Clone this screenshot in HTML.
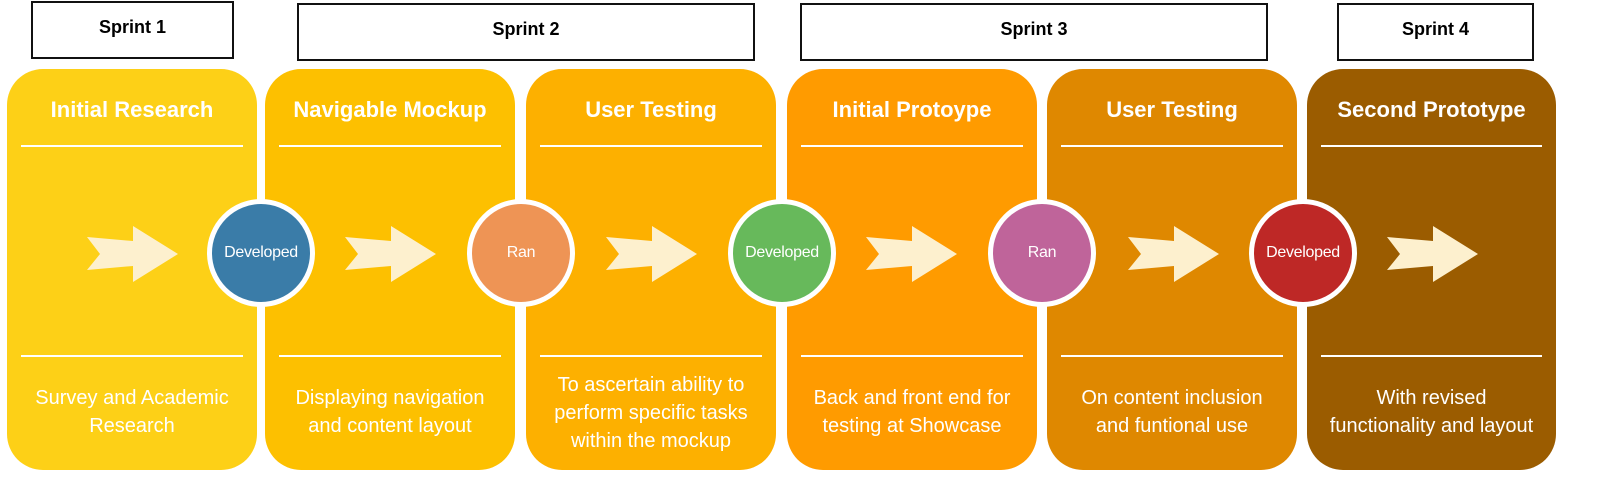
<!DOCTYPE html>
<html><head><style>
body{margin:0;width:1600px;height:478px;background:#fff;overflow:hidden;position:relative;font-family:"Liberation Sans",Arial,sans-serif}
.s{position:absolute;border:2px solid #111;box-sizing:border-box;background:#fff;font-weight:bold;font-size:18px;text-align:center;line-height:48px;color:#000}
.p{position:absolute;top:69px;height:401px;width:250px;border-radius:36px;color:#fff}
.p .t{position:absolute;left:0;right:0;text-align:center;font-weight:bold;font-size:22px}
.p .l{position:absolute;left:14px;right:14px;height:2px;background:#fff}
.p .d{position:absolute;left:0;right:0;text-align:center;font-size:20px;line-height:28px}
.c{position:absolute;top:199px;width:98px;height:98px;border-radius:50%;border:5px solid #fff;color:#fff;font-size:16px;text-align:center;line-height:98px;letter-spacing:-0.3px}
</style></head><body>
<div class="s" style="left:31px;top:1px;width:203px;height:58px">Sprint 1</div>
<div class="s" style="left:297px;top:3px;width:458px;height:58px">Sprint 2</div>
<div class="s" style="left:800px;top:3px;width:468px;height:58px">Sprint 3</div>
<div class="s" style="left:1337px;top:3px;width:197px;height:58px">Sprint 4</div>

<div class="p" style="left:7px;background:#FDD017"><div class="t" style="top:28px">Initial Research</div><div class="l" style="top:76px"></div><div class="l" style="top:286px"></div><div class="d" style="top:315px">Survey and Academic<br>Research</div></div>
<div class="p" style="left:265px;background:#FDC000"><div class="t" style="top:28px">Navigable Mockup</div><div class="l" style="top:76px"></div><div class="l" style="top:286px"></div><div class="d" style="top:315px">Displaying navigation<br>and content layout</div></div>
<div class="p" style="left:526px;background:#FDB000"><div class="t" style="top:28px">User Testing</div><div class="l" style="top:76px"></div><div class="l" style="top:286px"></div><div class="d" style="top:302px">To ascertain ability to<br>perform specific tasks<br>within the mockup</div></div>
<div class="p" style="left:787px;background:#FF9B00"><div class="t" style="top:28px">Initial Protoype</div><div class="l" style="top:76px"></div><div class="l" style="top:286px"></div><div class="d" style="top:315px">Back and front end for<br>testing at Showcase</div></div>
<div class="p" style="left:1047px;background:#DF8800"><div class="t" style="top:28px">User Testing</div><div class="l" style="top:76px"></div><div class="l" style="top:286px"></div><div class="d" style="top:315px">On content inclusion<br>and funtional use</div></div>
<div class="p" style="left:1307px;width:249px;background:#9B5C00"><div class="t" style="top:28px">Second Prototype</div><div class="l" style="top:76px"></div><div class="l" style="top:286px"></div><div class="d" style="top:315px">With revised<br>functionality and layout</div></div>

<svg style="position:absolute;left:0;top:0" width="1600" height="478">
<defs><polygon id="a" points="0,11 13,28 0,44 46,40 46,56 91,28 46,0 46,15" fill="#FDF0CE"/></defs>
<use href="#a" x="87" y="226"/><use href="#a" x="345" y="226"/><use href="#a" x="606" y="226"/>
<use href="#a" x="866" y="226"/><use href="#a" x="1128" y="226"/><use href="#a" x="1387" y="226"/>
</svg>

<div class="c" style="left:207px;background:#3A7CA8">Developed</div>
<div class="c" style="left:467px;background:#EE9455">Ran</div>
<div class="c" style="left:728px;background:#67B95B">Developed</div>
<div class="c" style="left:988px;background:#BF649A">Ran</div>
<div class="c" style="left:1249px;background:#BE2826">Developed</div>
</body></html>
